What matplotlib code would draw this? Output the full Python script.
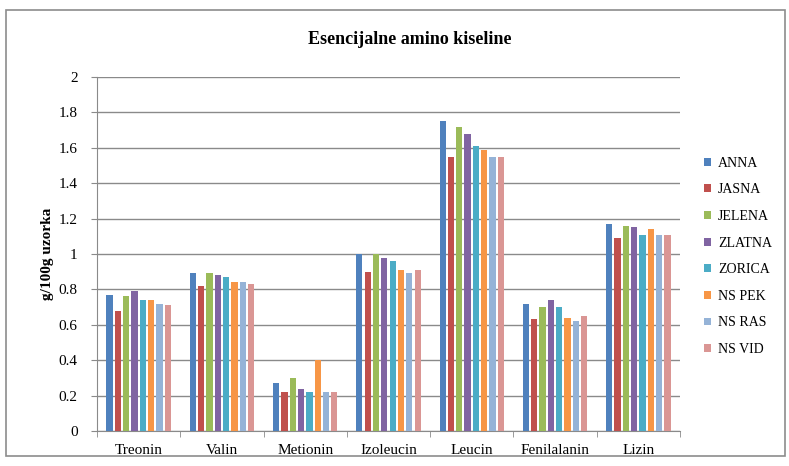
import matplotlib
matplotlib.use("Agg")
import matplotlib.pyplot as plt
from matplotlib.patches import Rectangle
import numpy as np

categories = ["Treonin", "Valin", "Metionin", "Izoleucin", "Leucin", "Fenilalanin", "Lizin"]
series_names = ["ANNA", "JASNA", "JELENA", "ZLATNA", "ZORICA", "NS PEK", "NS RAS", "NS VID"]
anna   = [0.77, 0.89, 0.27, 1.00, 1.75, 0.72, 1.17]
jasna  = [0.68, 0.82, 0.22, 0.90, 1.55, 0.63, 1.09]
jelena = [0.76, 0.89, 0.30, 1.00, 1.72, 0.70, 1.16]
zlatna = [0.79, 0.88, 0.24, 0.98, 1.68, 0.74, 1.15]
zorica = [0.74, 0.87, 0.22, 0.96, 1.61, 0.70, 1.11]
ns_pek = [0.74, 0.84, 0.40, 0.91, 1.59, 0.64, 1.14]
ns_ras = [0.72, 0.84, 0.22, 0.89, 1.55, 0.62, 1.11]
ns_vid = [0.71, 0.83, 0.22, 0.91, 1.55, 0.65, 1.11]
series_values = [anna, jasna, jelena, zlatna, zorica, ns_pek, ns_ras, ns_vid]
colors = ["#4F81BD", "#C0504D", "#9BBB59", "#8064A2", "#4BACC6", "#F79646", "#95B3D7", "#DA9694"]
yticks = [0, 0.2, 0.4, 0.6, 0.8, 1.0, 1.2, 1.4, 1.6, 1.8, 2.0]
ytick_labels = ["0", "0.2", "0.4", "0.6", "0.8", "1", "1.2", "1.4", "1.6", "1.8", "2"]

plt.rcParams['font.family'] = ['Liberation Serif', 'DejaVu Serif']

fig = plt.figure(figsize=(7.89, 4.66), dpi=100)
# outer chart border
fig.patches.append(Rectangle((6/789, 1-456/466), 779/789, 446/466, transform=fig.transFigure,
                             fill=False, edgecolor="#8c8c8c", linewidth=1.2))
ax = fig.add_axes([97/789, 1-431/466, 583/789, 354/466])

x = np.arange(len(categories))
slot = 0.1
bw = 0.075
for i, (name, vals, c) in enumerate(zip(series_names, series_values, colors)):
    ax.bar(x + (i - 3.5) * slot, vals, width=bw, color=c, label=name, zorder=3)

ax.set_xlim(-0.5, len(categories) - 0.5)
ax.set_ylim(0, 2)
ax.set_yticks(yticks)
ax.set_yticklabels(ytick_labels, fontsize=11)
ax.yaxis.grid(True, color="#8a8a8a", linewidth=1.0, zorder=0)
ax.set_xticks(x)
ax.set_xticklabels(categories, fontsize=11)
ax.tick_params(axis="x", length=0, pad=9)
ax.tick_params(axis="y", length=4, color="#8a8a8a", pad=10)
# category boundary ticks
ax.set_xticks(np.arange(-0.5, len(categories), 1.0), minor=True)
ax.tick_params(axis="x", which="minor", length=4, color="#8a8a8a")
for s in ["top", "right"]:
    ax.spines[s].set_visible(False)
ax.spines["left"].set_color("#8a8a8a")
ax.spines["bottom"].set_color("#8a8a8a")

ax.set_ylabel("g/100g uzorka", fontsize=11, fontweight="bold", labelpad=3)
fig.text(410/789, 1 - 40/466, "Esencijalne amino kiseline",
         ha="center", va="center", fontsize=13, fontweight="bold")

leg = ax.legend(loc="upper left", bbox_to_anchor=(1.02, 0.81), frameon=False,
                fontsize=10, handlelength=0.5, handleheight=0.5, labelspacing=0.98,
                handletextpad=0.5)

fig.savefig("out.png", dpi=100)
